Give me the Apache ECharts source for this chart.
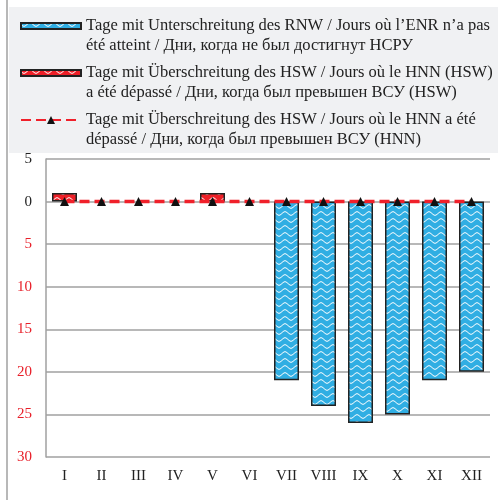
<!DOCTYPE html>
<html>
<head>
<meta charset="utf-8">
<script src="https://cdn.jsdelivr.net/npm/echarts@6/dist/echarts.min.js"></script>
<style>
html, body { margin: 0; padding: 0; background: #fff; }
#main { width: 498px; height: 500px; }
</style>
</head>
<body>
<div id="main"></div>
<script>
// Monate
var months = ['I', 'II', 'III', 'IV', 'V', 'VI', 'VII', 'VIII', 'IX', 'X', 'XI', 'XII'];
// Tage unter RNW (nach unten)
var rnwDays = [0, 0, 0, 0, 0, 0, 21, 24, 26, 25, 21, 20];
// Tage über HSW (nach oben)
var hswDays = [1, 0, 0, 0, 1, 0, 0, 0, 0, 0, 0, 0];
// Tage über HSW (HNN), Linie
var hnnDays = [0, 0, 0, 0, 0, 0, 0, 0, 0, 0, 0, 0];

var names = [
	'Tage mit Unterschreitung des RNW / Jours où l\u2019ENR n\u2019a pas\nété atteint / Дни, когда не был достигнут НСРУ',
	'Tage mit Überschreitung des HSW / Jours où le HNN (HSW)\na été dépassé / Дни, когда был превышен ВСУ (HSW)',
	'Tage mit Überschreitung des HSW / Jours où le HNN a été\ndépassé / Дни, когда был превышен ВСУ (HNN)'
];

// Wellenmuster
function wavePattern(bg) {
	var c = document.createElement('canvas');
	c.width = 12;
	c.height = 7;
	var ctx = c.getContext('2d');
	ctx.fillStyle = bg;
	ctx.fillRect(0, 0, 12, 7);
	ctx.strokeStyle = '#ffffff';
	ctx.lineWidth = 1;
	ctx.beginPath();
	for (var x = 0; x <= 12; x++) {
		var y = 3.5 + 1.8 * Math.sin(x / 12 * Math.PI * 2);
		if (x === 0) ctx.moveTo(x, y); else ctx.lineTo(x, y);
	}
	ctx.stroke();
	return { image: c, repeat: 'repeat' };
}

function blankZero(arr, sign) {
	return arr.map(function (v) { return v === 0 ? '-' : sign * v; });
}

var serif = '"Liberation Serif", "DejaVu Serif", serif';
// flaches Rechteck im 60x10 Feld
var flatRect = 'path://M0,0M60,10M0,2L60,2L60,8L0,8Z';

var myChart = echarts.init(document.getElementById('main'));

var option = {
	animation: false,
	graphic: [
		{ type: 'rect', shape: { x: 9, y: 7, width: 489, height: 146 }, style: { fill: '#f0f1f3' }, z: -10 },
		{ type: 'line', shape: { x1: 7, y1: 0, x2: 7, y2: 500 }, style: { stroke: '#a0a0a0', lineWidth: 1.5 } }
	],
	legend: {
		orient: 'vertical',
		left: 20,
		top: -4,
		padding: 0,
		itemGap: -13,
		itemWidth: 60,
		itemHeight: 10,
		data: [
			{ name: names[0], icon: flatRect },
			{ name: names[1], icon: flatRect },
			{ name: names[2] }
		],
		// leere erste Zeile, damit das Symbol auf der ersten Textzeile steht
		formatter: function (name) { return '\n' + name; },
		textStyle: {
			fontFamily: serif,
			fontSize: 16.5,
			color: '#222',
			lineHeight: 20
		}
	},
	grid: { left: 46, right: 8, top: 159, bottom: 43 },
	xAxis: {
		type: 'category',
		data: months,
		position: 'bottom',
		axisLine: { show: false },
		axisTick: { show: false },
		axisLabel: { fontFamily: serif, fontSize: 15, color: '#222', margin: 12 }
	},
	yAxis: {
		type: 'value',
		inverse: true,
		min: -5,
		max: 30,
		interval: 5,
		axisLine: { show: true, lineStyle: { color: '#a0a0a0', width: 1.5 } },
		axisTick: { show: false },
		splitLine: { lineStyle: { color: '#a0a0a0', width: 1.5 } },
		axisLabel: {
			fontFamily: serif,
			fontSize: 15,
			margin: 14,
			formatter: function (v) { return Math.abs(v); },
			color: function (v) { return Number(v) <= 0 ? '#222' : '#e8202a'; }
		}
	},
	series: [
		{
			name: names[0],
			type: 'bar',
			data: blankZero(rnwDays, 1),
			barWidth: 25,
			barGap: '-100%',
			itemStyle: { color: wavePattern('#30aee3'), borderColor: '#222', borderWidth: 1.5 }
		},
		{
			name: names[1],
			type: 'bar',
			data: blankZero(hswDays, -1),
			barWidth: 25,
			barGap: '-100%',
			itemStyle: { color: wavePattern('#ee2028'), borderColor: '#222', borderWidth: 1.5 }
		},
		{
			name: names[2],
			type: 'line',
			data: hnnDays,
			symbol: 'triangle',
			symbolSize: 9,
			lineStyle: { color: '#f0202a', width: 3.5, type: [10, 5] },
			itemStyle: { color: '#111' }
		}
	]
};

myChart.setOption(option);
</script>
</body>
</html>
